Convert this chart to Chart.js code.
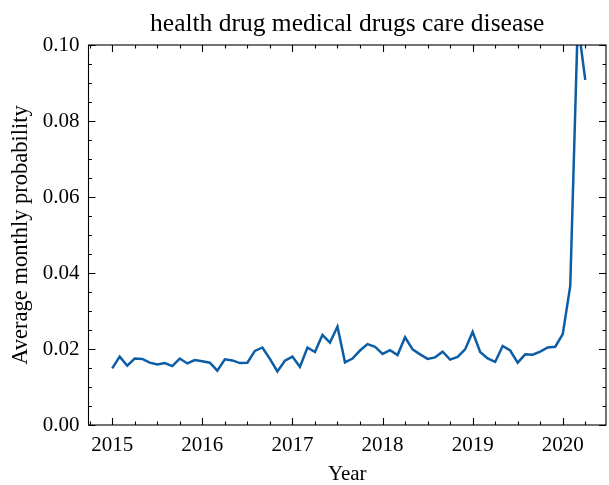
<!DOCTYPE html>
<html>
<head>
<meta charset="utf-8">
<script src="https://cdn.jsdelivr.net/npm/chart.js@4/dist/chart.umd.min.js"></script>
<style>
  html, body { margin: 0; padding: 0; background: #fff; }
  #wrap { width: 609px; height: 485px; }
</style>
</head>
<body>
<div id="wrap"><canvas id="chart" width="609" height="485"></canvas></div>
<script>
// Monthly periods, January 2015 to April 2020
const months = [
  '2015-01','2015-02','2015-03','2015-04','2015-05','2015-06','2015-07','2015-08','2015-09','2015-10','2015-11','2015-12',
  '2016-01','2016-02','2016-03','2016-04','2016-05','2016-06','2016-07','2016-08','2016-09','2016-10','2016-11','2016-12',
  '2017-01','2017-02','2017-03','2017-04','2017-05','2017-06','2017-07','2017-08','2017-09','2017-10','2017-11','2017-12',
  '2018-01','2018-02','2018-03','2018-04','2018-05','2018-06','2018-07','2018-08','2018-09','2018-10','2018-11','2018-12',
  '2019-01','2019-02','2019-03','2019-04','2019-05','2019-06','2019-07','2019-08','2019-09','2019-10','2019-11','2019-12',
  '2020-01','2020-02','2020-03','2020-04'
];

// Average monthly probability of the topic
const probability = [
  0.0149, 0.0180, 0.0156, 0.0175, 0.0174, 0.0164, 0.0159, 0.0163, 0.0155, 0.0175, 0.0162, 0.0171,
  0.0168, 0.0164, 0.0143, 0.0173, 0.0170, 0.0163, 0.0164, 0.0195, 0.0204, 0.0174, 0.0141, 0.0169,
  0.0180, 0.0153, 0.0204, 0.0192, 0.0237, 0.0217, 0.0259, 0.0165, 0.0175, 0.0196, 0.0213, 0.0206,
  0.0187, 0.0197, 0.0184, 0.0231, 0.0199, 0.0186, 0.0174, 0.0178, 0.0193, 0.0172, 0.0179, 0.0199,
  0.0245, 0.0192, 0.0175, 0.0166, 0.0208, 0.0196, 0.0164, 0.0186, 0.0185, 0.0193, 0.0204, 0.0206,
  0.0239, 0.0366, 0.1060, 0.0908
];

// Axis tick values
const yearTicks = [2015, 2016, 2017, 2018, 2019, 2020];
const yTicks = [0.00, 0.02, 0.04, 0.06, 0.08, 0.10];

const TITLE = 'health drug medical drugs care disease';
const FONT = "'Liberation Serif', 'Times New Roman', serif";

// month string -> fractional year
const toYear = s => {
  const [y, m] = s.split('-').map(Number);
  return y + (m - 1) / 12;
};
const points = months.map((m, i) => ({ x: toYear(m), y: probability[i] }));

// Title centred over the plotting area
const axesTitle = {
  id: 'axesTitle',
  afterDraw(chart) {
    const { ctx, chartArea: a } = chart;
    ctx.save();
    ctx.fillStyle = '#000';
    ctx.font = `25.5px ${FONT}`;
    ctx.textAlign = 'center';
    ctx.textBaseline = 'alphabetic';
    ctx.fillText(TITLE, (a.left + a.right) / 2, 31);
    ctx.restore();
  }
};

// Frame with inward major/minor ticks on all four sides
const frameTicks = {
  id: 'frameTicks',
  afterDraw(chart) {
    const { ctx, chartArea: a, scales: { x, y } } = chart;
    const major = 7, minor = 3.5;
    ctx.save();
    ctx.strokeStyle = '#000';
    ctx.lineWidth = 1.1;
    ctx.strokeRect(a.left, a.top, a.right - a.left, a.bottom - a.top);
    ctx.beginPath();
    // x ticks: yearly major, quarterly minor
    for (let yr = 2014; yr <= 2021; yr++) {
      for (let q = 0; q < 4; q++) {
        const v = yr + q / 4;
        if (v < x.min || v > x.max) continue;
        const px = Math.round(x.getPixelForValue(v)) + 0.5;
        const len = q === 0 ? major : minor;
        ctx.moveTo(px, a.bottom); ctx.lineTo(px, a.bottom - len);
        ctx.moveTo(px, a.top); ctx.lineTo(px, a.top + len);
      }
    }
    // y ticks: major every 0.02, minor every 0.005
    for (let k = 0; k <= 20; k++) {
      const v = k * 0.005;
      const py = Math.round(y.getPixelForValue(v)) + 0.5;
      const len = k % 4 === 0 ? major : minor;
      ctx.moveTo(a.left, py); ctx.lineTo(a.left + len, py);
      ctx.moveTo(a.right, py); ctx.lineTo(a.right - len, py);
    }
    ctx.stroke();
    ctx.restore();
  }
};

new Chart(document.getElementById('chart'), {
  type: 'line',
  data: {
    datasets: [{
      data: points,
      borderColor: '#0C5DA5',
      borderWidth: 2.5,
      pointRadius: 0,
      tension: 0,
      fill: false
    }]
  },
  options: {
    responsive: false,
    animation: false,
    events: [],
    layout: { padding: { left: 0, right: 3, top: 45, bottom: 0 } },
    plugins: {
      legend: { display: false },
      tooltip: { enabled: false },
      title: { display: false }
    },
    scales: {
      x: {
        type: 'linear',
        min: 2014.737,
        max: 2020.48,
        grid: { display: false, drawTicks: false },
        border: { display: false },
        afterBuildTicks: s => { s.ticks = yearTicks.map(v => ({ value: v })); },
        afterFit: s => { s.height = 60; },
        ticks: {
          color: '#000',
          padding: 8,
          autoSkip: false,
          maxRotation: 0,
          font: { family: FONT, size: 21 },
          callback: v => String(v)
        },
        title: {
          display: true,
          text: 'Year',
          color: '#000',
          font: { family: FONT, size: 21, lineHeight: 1 },
          padding: { top: 0, bottom: 0 }
        }
      },
      y: {
        type: 'linear',
        min: 0,
        max: 0.1,
        grid: { display: false, drawTicks: false },
        border: { display: false },
        afterBuildTicks: s => { s.ticks = yTicks.map(v => ({ value: v })); },
        afterFit: s => { s.width = 88.5; },
        ticks: {
          color: '#000',
          padding: 9,
          font: { family: FONT, size: 21 },
          callback: v => Number(v).toFixed(2)
        },
        title: {
          display: true,
          text: 'Average monthly probability',
          color: '#000',
          font: { family: FONT, size: 22.5, lineHeight: 1.2 },
          padding: { top: 8, bottom: 0 }
        }
      }
    }
  },
  plugins: [frameTicks, axesTitle]
});
</script>
</body>
</html>
